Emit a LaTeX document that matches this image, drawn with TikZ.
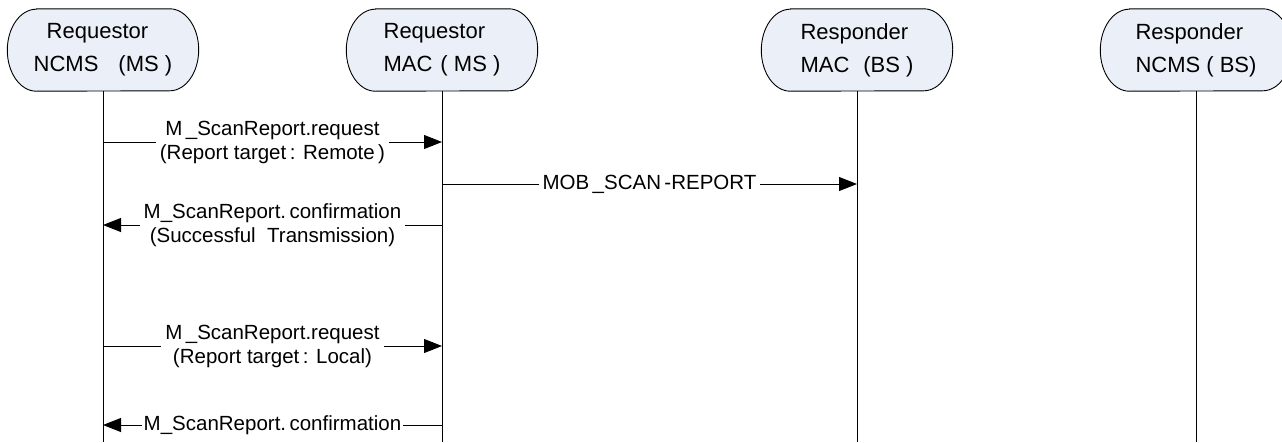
\documentclass[tikz,border=0pt]{standalone}
\usepackage{fontspec}
\setmainfont{Liberation Sans}
\usetikzlibrary{arrows.meta,calc,backgrounds}
\definecolor{headfill}{RGB}{235,240,248}
\tikzset{
 party/.style={rectangle,minimum width=191pt,minimum height=82pt,inner sep=0pt,align=left,
   font=\fontsize{22}{33}\selectfont},
 partyline/.style={draw,line width=0.9pt,fill=headfill},
 life/.style={line width=0.9pt},
 msg/.style={line width=0.9pt,-{Triangle[length=18pt,width=14pt]}},
 lbl/.style={fill=white,inner xsep=4pt,inner ysep=1pt,align=center,
   font=\fontsize{20.5}{24}\selectfont}
}

\begin{document}
\begin{tikzpicture}[x=1pt,y=-1pt]
 \useasboundingbox (0,0) rectangle (1282,442);
 \clip (0,0) rectangle (1282,442);
 \node[party] (rqncms) at (103,50) {\hspace*{13pt}Requestor\\NCMS\hspace{20pt}(MS~)}; %requestor NCMS
 \node[party] (rqmac) at (442,50) {Requestor\\MAC\hspace{8pt}( MS )}; %requestor MAC
 \node[party] (rsmac) at (857,50) {Responder\\MAC\hspace{14pt}(BS~)}; %responder MAC
 \node[party] (rsncms) at (1196,50) {Responder\\NCMS ( BS)}; %responder NCMS
 \begin{scope}[on background layer]
 \foreach \p in {rqncms,rqmac,rsmac,rsncms}
   \filldraw[partyline] ($(\p.north west)+(29,0)$) -- ($(\p.north east)+(-29,0)$)
     arc[start angle=90,end angle=-90,x radius=29pt,y radius=41pt]
     -- ($(\p.south west)+(29,0)$)
     arc[start angle=270,end angle=90,x radius=29pt,y radius=41pt] -- cycle; %heads
 \end{scope}
 \coordinate (bottom) at (0,442);
 \foreach \p in {rqncms,rqmac,rsmac,rsncms}
   \draw[life] (\p.south) -- (\p.south |- bottom); %lifelines

 \coordinate (r1) at (0,142);
 \coordinate (r2) at (0,184);
 \coordinate (r3) at (0,225);
 \coordinate (r4) at (0,346);
 \coordinate (r5) at (0,425);
 \draw[msg] (rqncms |- r1) -- node[lbl] {M\,\_ScanReport.request\\(Report target\,: Remote\,)} (rqmac |- r1);
 \draw[msg] (rqmac |- r2) -- node[lbl] {MOB\,\_SCAN\,-REPORT} (rsmac |- r2);
 \draw[msg] (rqmac |- r3) -- node[lbl] {M\_ScanReport.\,confirmation\\(Successful~ Transmission)} (rqncms |- r3);
 \draw[msg] (rqncms |- r4) -- node[lbl] {M\,\_ScanReport.request\\(Report target\,: Local)} (rqmac |- r4);
 \draw[msg] (rqmac |- r5) -- node[lbl,inner xsep=2pt] {M\_ScanReport.\,confirmation} (rqncms |- r5);
\end{tikzpicture}
\end{document}
